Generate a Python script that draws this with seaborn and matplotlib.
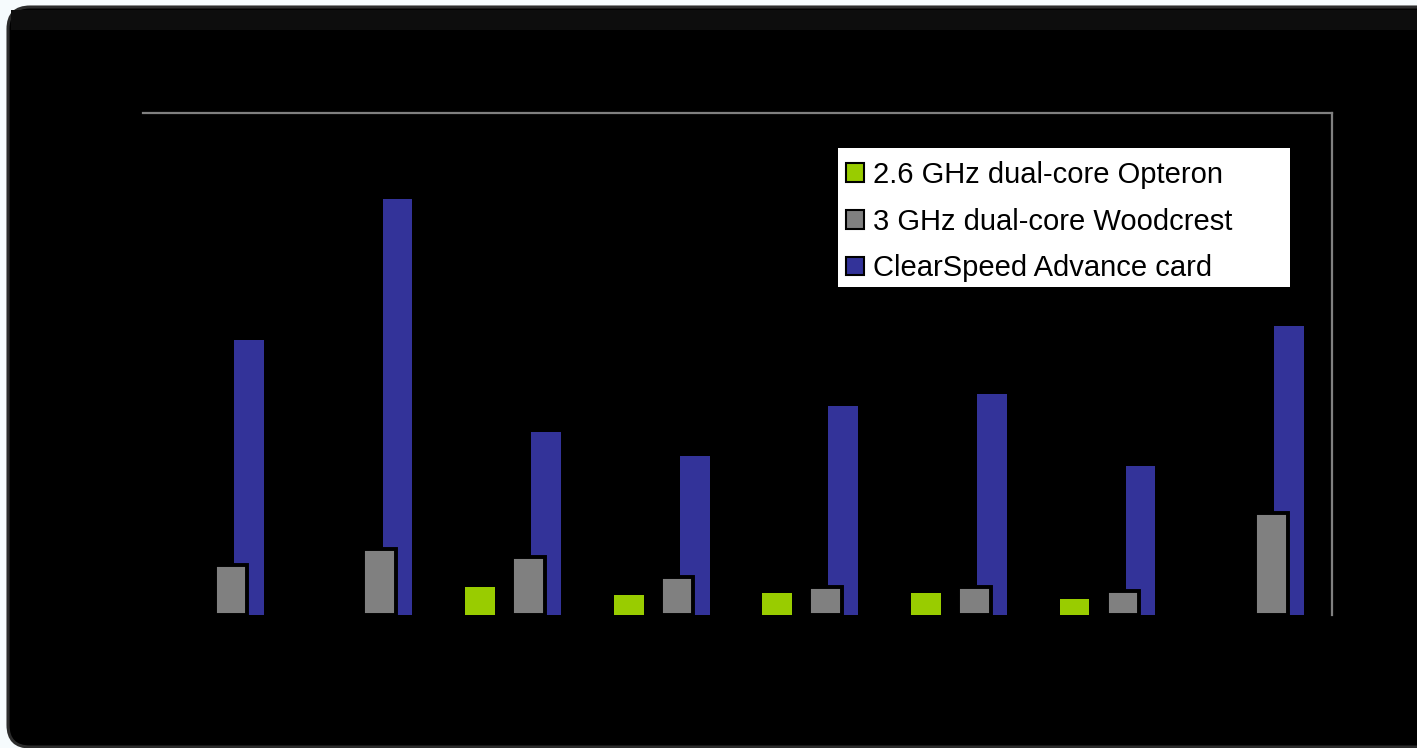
import matplotlib
matplotlib.use("Agg")
import matplotlib.pyplot as plt
import pandas as pd
import seaborn as sns
from matplotlib.patches import FancyBboxPatch, Rectangle

groups = [1, 2, 3, 4, 5, 6, 7, 8]
series = ["2.6 GHz dual-core Opteron", "3 GHz dual-core Woodcrest", "ClearSpeed Advance card"]
opteron = [None, None, 1.4, 1.0, 1.1, 1.1, 0.8, None]
woodcrest = [2.5, 3.3, 2.9, 1.9, 1.4, 1.4, 1.2, 5.1]
clearspeed = [13.7, 20.7, 9.1, 7.9, 10.4, 11.0, 7.4, 14.4]
colors = ["#99cc00", "#808080", "#333399"]

sns.set_style("white")
plt.rcParams['font.family'] = ['Liberation Sans', 'DejaVu Sans']

fig = plt.figure(figsize=(14.17, 7.48), dpi=100)
fig.patch.set_facecolor("#f6fbfd")

# rounded black panel behind the chart
bg = FancyBboxPatch((0.08, 0.01), 14.5, 7.40, boxstyle="round,pad=0,rounding_size=0.22",
                    transform=fig.dpi_scale_trans, facecolor="black",
                    edgecolor="#2c2c2c", linewidth=2.2, zorder=-10)
fig.add_artist(bg)
fig.add_artist(Rectangle((0.11, 7.18), 14.3, 0.2, transform=fig.dpi_scale_trans,
                         facecolor="#0d0d0d", edgecolor="none", zorder=-9))

ax = fig.add_axes([143 / 1417, 1 - 615 / 748, (1332 - 143) / 1417, (615 - 113) / 748])
ax.set_facecolor("black")

offsets = [-0.232, 0.093, 0.212]
widths = [0.2, 0.22, 0.2]
order = [2, 0, 1]  # blue drawn behind the gray bars
values = [opteron, woodcrest, clearspeed]
for k in order:
    df = pd.DataFrame({"x": [g - 1 + offsets[k] for g in groups], "y": values[k]}).dropna()
    sns.barplot(data=df, x="x", y="y", native_scale=True, width=widths[k],
                color=colors[k], saturation=1, ax=ax,
                edgecolor="black" if k == 1 else "none",
                linewidth=2.8 if k == 1 else 0, zorder=3 if k == 1 else 2)

ax.set_xlim(-0.5, 7.5)
ax.set_ylim(0, 25)
ax.set_xticks([])
ax.set_yticks([])
ax.set_xlabel("")
ax.set_ylabel("")
for s in ["left", "bottom"]:
    ax.spines[s].set_visible(False)
for s in ["top", "right"]:
    ax.spines[s].set_color("#808080")
    ax.spines[s].set_linewidth(1.6)

# white legend box
ax.add_patch(Rectangle((838 / 1417, 1 - 287 / 748), (1290 - 838) / 1417, (287 - 148) / 748,
                       transform=fig.transFigure, facecolor="white", edgecolor="none",
                       zorder=4, clip_on=False))
handles = [Rectangle((0, 0), 1, 1, facecolor=c, edgecolor="black", linewidth=1.5) for c in colors]
leg = ax.legend(handles, series, loc="upper left", bbox_to_anchor=(832 / 1417, 1 - 147 / 748),
                bbox_transform=fig.transFigure, fontsize=21, frameon=False, labelcolor="black",
                handlelength=0.6, handleheight=0.6, handletextpad=0.33, labelspacing=0.635,
                borderpad=0.48, borderaxespad=0)
leg.set_zorder(5)

fig.savefig("out.png", dpi=100, facecolor=fig.get_facecolor())
